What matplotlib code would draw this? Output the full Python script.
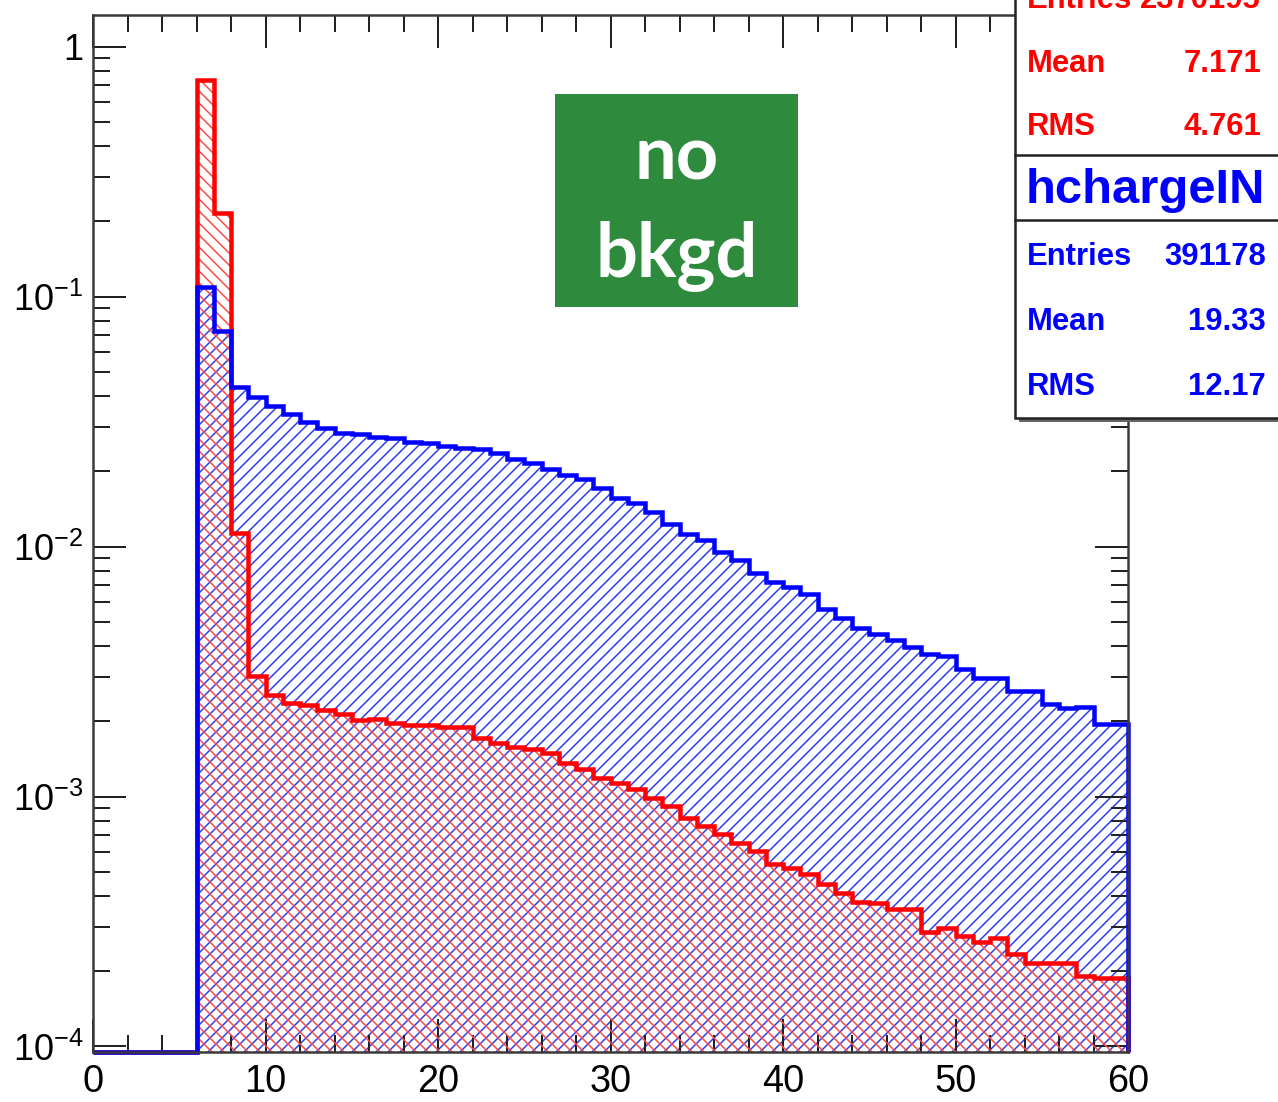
import numpy as np
import matplotlib.pyplot as plt
from matplotlib.patches import Rectangle
from matplotlib.lines import Line2D
from matplotlib.ticker import MultipleLocator, LogLocator, FuncFormatter

plt.rcParams['font.family'] = ['Liberation Sans', 'DejaVu Sans']
plt.rcParams['hatch.linewidth'] = 1.5

W, H, DPI = 1278, 1102, 72

# charge histograms, 1 unit bins from 0 to 60, normalised to unit area
edges = np.arange(0, 61)
charge_out = [0, 0, 0, 0, 0, 0,
              0.737, 0.216, 0.0113, 0.00304, 0.00255, 0.00237, 0.00233, 0.00222,
              0.00214, 0.00203, 0.00204, 0.00197, 0.00193, 0.00193, 0.00190, 0.00190,
              0.00172, 0.00164, 0.00158, 0.00155, 0.00149, 0.00136, 0.00129, 0.00119,
              0.00113, 0.00107, 0.000986, 0.000916, 0.000820, 0.000762, 0.000707,
              0.000651, 0.000605, 0.000536, 0.000517, 0.000489, 0.000446, 0.000410,
              0.000378, 0.000374, 0.000354, 0.000354, 0.000286, 0.000297, 0.000276,
              0.000261, 0.000271, 0.000234, 0.000215, 0.000215, 0.000215, 0.000191,
              0.000187, 0.000187]
charge_in = [0, 0, 0, 0, 0, 0,
             0.109, 0.0727, 0.0434, 0.0396, 0.0364, 0.0338, 0.0314, 0.0297,
             0.0286, 0.0281, 0.0274, 0.0271, 0.0261, 0.0259, 0.0252, 0.0249,
             0.0245, 0.0236, 0.0225, 0.0217, 0.0205, 0.0193, 0.0186, 0.0172,
             0.0157, 0.0149, 0.0138, 0.0123, 0.0112, 0.0106, 0.00955, 0.00887,
             0.00787, 0.00724, 0.00691, 0.00648, 0.00564, 0.00519, 0.00474,
             0.00448, 0.00424, 0.00397, 0.00372, 0.00366, 0.00324, 0.00299,
             0.00299, 0.00265, 0.00265, 0.00235, 0.00226, 0.00228, 0.00195, 0.00195]

stats_out = [("Entries", "2370195"), ("Mean", "7.171"), ("RMS", "4.761")]
stats_in_name = "hchargeIN"
stats_in = [("Entries", "391178"), ("Mean", "19.33"), ("RMS", "12.17")]

YMIN, YMAX = 0.95e-4, 1.34


def fx(px):
    return px / W


def fy(py):
    return 1 - py / H


fig = plt.figure(figsize=(W / DPI, H / DPI), dpi=DPI)
ax = fig.add_axes([fx(93), fy(1052), fx(1128) - fx(93), fy(15) - fy(1052)])

ax.set_yscale('log')
ax.set_xlim(0, 60)
ax.set_ylim(YMIN, YMAX)

out_vals = np.where(np.array(charge_out) > 0, charge_out, YMIN)
in_vals = np.where(np.array(charge_in) > 0, charge_in, YMIN)

# hatched fills, then outlines (blue outline on top)
ax.stairs(in_vals, edges, baseline=YMIN, fill=True, facecolor='none',
          edgecolor='#2a3cf0', hatch='//', linewidth=0, zorder=1)
ax.stairs(out_vals, edges, baseline=YMIN, fill=True, facecolor='none',
          edgecolor='#ff4848', hatch='\\\\', linewidth=0, zorder=2)
ax.stairs(out_vals, edges, baseline=YMIN, color='#ff0000', linewidth=4.5,
          zorder=3, clip_on=False)
ax.stairs(in_vals, edges, baseline=YMIN, color='#0000ff', linewidth=4.5,
          zorder=4, clip_on=False)

# ROOT-like frame and ticks
for sp in ax.spines.values():
    sp.set_color('#3a3a3a')
    sp.set_linewidth(2.5)
    sp.set_zorder(5)

ax.xaxis.set_major_locator(MultipleLocator(10))
ax.xaxis.set_minor_locator(MultipleLocator(2))
ax.yaxis.set_major_locator(LogLocator(base=10, numticks=10))
ax.yaxis.set_minor_locator(LogLocator(base=10, subs=np.arange(2, 10), numticks=10))


def log_label(v, pos):
    e = int(round(np.log10(v)))
    if e == 0:
        return "1"
    return r"$\mathregular{10^{%d}}$" % e


ax.yaxis.set_major_formatter(FuncFormatter(log_label))
ax.yaxis.set_minor_formatter(FuncFormatter(lambda v, p: ""))

ax.tick_params(which='both', direction='in', top=True, right=True,
               color='#222222', width=2)
ax.tick_params(which='major', length=33)
ax.tick_params(which='minor', length=17)
ax.tick_params(axis='x', labelsize=38, pad=12)
ax.tick_params(axis='y', labelsize=36, pad=10)

# green label
fig.add_artist(Rectangle((fx(555), fy(307)), fx(798) - fx(555), fy(94) - fy(307),
                         transform=fig.transFigure, facecolor='#2e8b3d',
                         edgecolor='none', zorder=10))
fig.text(fx(677), fy(180), "no", color='white', fontsize=74, fontweight='bold',
         family=['Lato', 'DejaVu Sans'], ha='center', va='baseline', zorder=11)
fig.text(fx(677), fy(277), "bkgd", color='white', fontsize=74, fontweight='bold',
         family=['Lato', 'DejaVu Sans'], ha='center', va='baseline', zorder=11)

# stats box
fig.add_artist(Rectangle((fx(1019), fy(422)), fx(1300) - fx(1019), fy(-30) - fy(422),
                         transform=fig.transFigure, facecolor='#666666',
                         edgecolor='none', zorder=12))
fig.add_artist(Rectangle((fx(1015), fy(418)), fx(1300) - fx(1015), fy(-30) - fy(418),
                         transform=fig.transFigure, facecolor='white',
                         edgecolor='#222222', linewidth=2.5, zorder=13))
for yl in (155, 220):
    fig.add_artist(Line2D([fx(1015), fx(1290)], [fy(yl), fy(yl)],
                          transform=fig.transFigure, color='#222222',
                          linewidth=2.5, zorder=14))

for (name, val), yb in zip(stats_out, (8, 72, 135)):
    fig.text(fx(1027), fy(yb), name, color='#ff0000', fontsize=31,
             fontweight='bold', ha='left', va='baseline', zorder=15)
    fig.text(fx(1261), fy(yb), val, color='#ff0000', fontsize=31,
             fontweight='bold', ha='right', va='baseline', zorder=15)

fig.text(fx(1026), fy(203), stats_in_name, color='#0000ff', fontsize=49,
         fontweight='bold', ha='left', va='baseline', zorder=15)
for (name, val), yb in zip(stats_in, (265, 330, 395)):
    fig.text(fx(1027), fy(yb), name, color='#0000ff', fontsize=31,
             fontweight='bold', ha='left', va='baseline', zorder=15)
    fig.text(fx(1266), fy(yb), val, color='#0000ff', fontsize=31,
             fontweight='bold', ha='right', va='baseline', zorder=15)

fig.savefig("out.png", dpi=DPI)
